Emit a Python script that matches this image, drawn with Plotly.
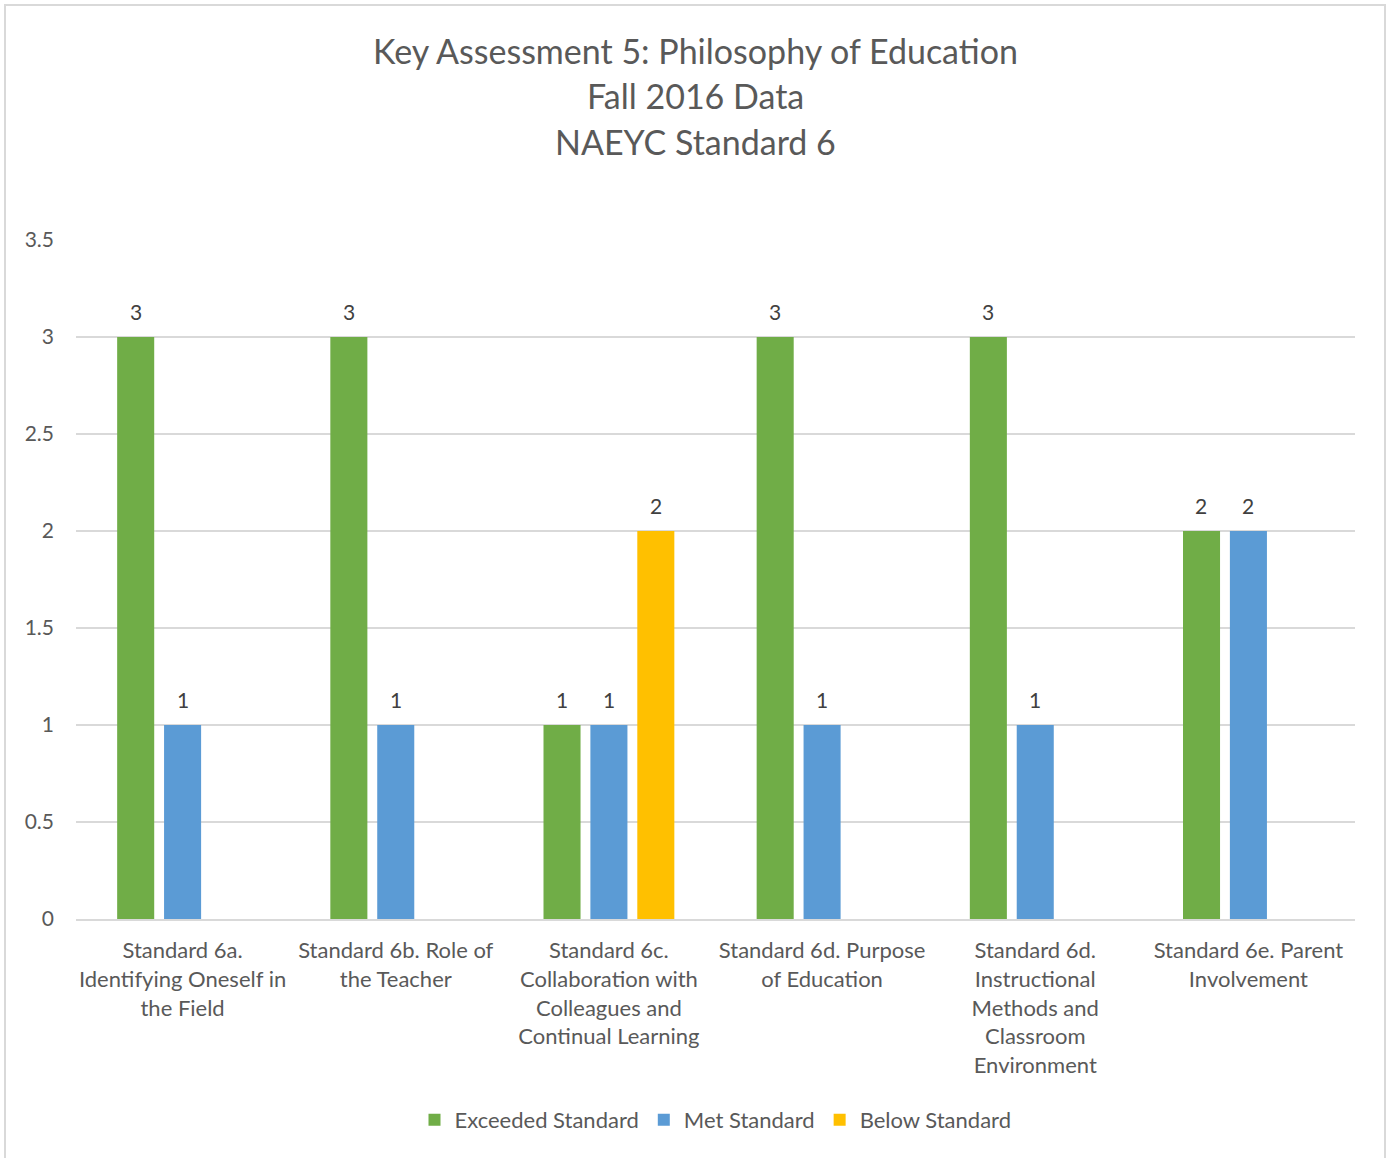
import plotly.graph_objects as go

# Category labels (wrapped the way they appear under the axis)
categories = [
    "Standard 6a.<br>Identifying Oneself in<br>the Field",
    "Standard 6b. Role of<br>the Teacher",
    "Standard 6c.<br>Collaboration with<br>Colleagues and<br>Continual Learning",
    "Standard 6d. Purpose<br>of Education",
    "Standard 6d.<br>Instructional<br>Methods and<br>Classroom<br>Environment",
    "Standard 6e. Parent<br>Involvement",
]

# Counts per rating level (None = no candidates at that level)
exceeded = [3, 3, 1, 3, 3, 2]
met = [1, 1, 1, 1, 1, 2]
below = [None, None, 2, None, None, None]

series_names = ["Exceeded Standard", "Met Standard", "Below Standard"]
series_colors = ["#70AD47", "#5B9BD5", "#FFC000"]

y_ticks = [0, 0.5, 1, 1.5, 2, 2.5, 3, 3.5]

FONT = "Lato, 'Open Sans', sans-serif"
TEXT_GRAY = "#595959"

W, H = 1389, 1158
ML, MR, MT, MB = 76, 34, 240, 239
PW, PH = W - ML - MR, H - MT - MB

# horizontal pixel offset of each series within its category group
SLOT = 47
series_shift = [-SLOT, 0, SLOT]

fig = go.Figure()
for name, vals, col, dx in zip(series_names, [exceeded, met, below], series_colors, series_shift):
    fig.add_trace(go.Bar(
        x=categories, y=vals, name=name,
        marker=dict(color=col, line=dict(width=0)),
    ))
    # value labels above each bar
    for cat, v in zip(categories, vals):
        if v is None:
            continue
        fig.add_annotation(
            x=cat, y=v, xref="x", yref="y", text=f"{v:g}",
            xshift=dx, yshift=26, showarrow=False,
            xanchor="center", yanchor="middle",
            font=dict(family=FONT, size=21, color="#404040"),
        )

# Chart title, one line per annotation
title_lines = ["Key Assessment 5: Philosophy of Education", "Fall 2016 Data", "NAEYC Standard 6"]
title_y_px = [50, 95, 141]
for line, ypx in zip(title_lines, title_y_px):
    fig.add_annotation(
        text=line, xref="paper", yref="paper",
        x=(695 - ML) / PW, y=(H - MB - ypx) / PH,
        xanchor="center", yanchor="middle", showarrow=False,
        font=dict(family=FONT, size=34, color=TEXT_GRAY),
    )

# Outer chart border
fig.add_shape(
    type="rect", xref="paper", yref="paper",
    x0=(5 - ML) / PW, x1=(1385 - ML) / PW,
    y0=(H - MB - 1165) / PH, y1=(H - MB - 5) / PH,
    line=dict(color="#D9D9D9", width=2), fillcolor="rgba(0,0,0,0)", layer="below",
)

fig.update_layout(
    width=W, height=H,
    margin=dict(l=ML, r=MR, t=MT, b=MB),
    paper_bgcolor="white", plot_bgcolor="white",
    barmode="group", bargap=0.34, bargroupgap=0.21,
    font=dict(family=FONT, size=22, color=TEXT_GRAY),
    showlegend=True,
    legend=dict(
        orientation="h", x=0.5, xanchor="center",
        y=-(1120 - (H - MB)) / PH, yanchor="middle",
        font=dict(family=FONT, size=22, color=TEXT_GRAY),
        itemwidth=30, traceorder="normal",
    ),
    xaxis=dict(
        showgrid=False, showline=True, linecolor="#D9D9D9", linewidth=2,
        ticks="", ticklabelstandoff=11, tickangle=0,
        tickfont=dict(family=FONT, size=22, color=TEXT_GRAY),
    ),
    yaxis=dict(
        range=[0, 3.5], tickvals=y_ticks, ticktext=[f"{v:g}" for v in y_ticks],
        showgrid=True, gridcolor="#D9D9D9", gridwidth=2,
        zeroline=False, showline=False, ticks="", ticklabelstandoff=21,
        tickfont=dict(family=FONT, size=21, color=TEXT_GRAY),
    ),
)

fig.write_html("out.html")
